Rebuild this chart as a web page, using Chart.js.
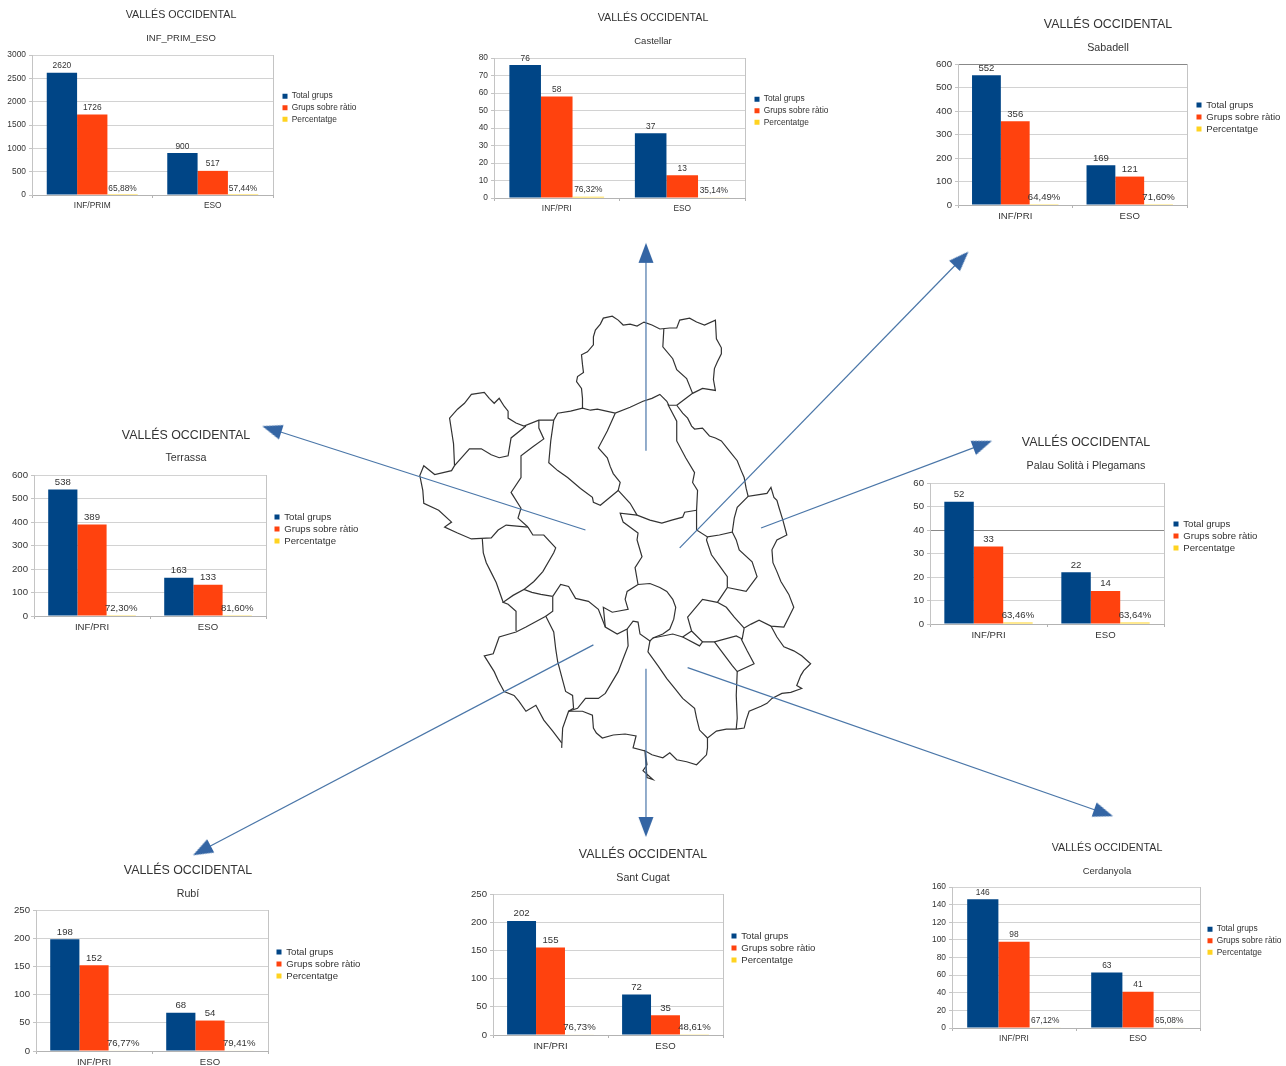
<!DOCTYPE html>
<html>
<head>
<meta charset="utf-8">
<title>Vallés Occidental</title>
<script src="https://cdn.jsdelivr.net/npm/chart.js@4"></script>
<style>
  body { margin: 0; background: #fff; }
  #page { position: relative; width: 1286px; height: 1066px; overflow: hidden; }
  canvas { position: absolute; }
  .small { filter: blur(0.5px); }
  .map { filter: blur(0.3px); }
</style>
</head>
<body>
<div id="page"></div>
<script>
// data
const mainTitle = "VALLÉS OCCIDENTAL";
const places = ["INF_PRIM_ESO", "Castellar", "Sabadell", "Terrassa", "Palau Solità i Plegamans", "Rubí", "Sant Cugat", "Cerdanyola"];
const categories = [
  ["INF/PRIM", "ESO"], ["INF/PRI", "ESO"], ["INF/PRI", "ESO"], ["INF/PRI", "ESO"],
  ["INF/PRI", "ESO"], ["INF/PRI", "ESO"], ["INF/PRI", "ESO"], ["INF/PRI", "ESO"]
];
const seriesNames = ["Total grups", "Grups sobre ràtio", "Percentatge"];
const totalGrups = [[2620, 900], [76, 37], [552, 169], [538, 163], [52, 22], [198, 68], [202, 72], [146, 63]];
const grupsSobreRatio = [[1726, 517], [58, 13], [356, 121], [389, 133], [33, 14], [152, 54], [155, 35], [98, 41]];
const percentatge = [
  [0.6588, 0.5744], [0.7632, 0.3514], [0.6449, 0.7160], [0.7230, 0.8160],
  [0.6346, 0.6364], [0.7677, 0.7941], [0.7673, 0.4861], [0.6712, 0.6508]
];
const yMax = [3000, 80, 600, 600, 60, 250, 250, 160];
const yStep = [500, 10, 100, 100, 10, 50, 50, 20];
const darkGridLine = [null, null, 600, null, 40, null, null, null];

const seriesColors = ["#004586", "#ff420e", "#ffd320"];

// where each small chart sits on the page
const placement = [
  { tx: 181, ty: 14, sy: 37, l: 32, r: 273, t: 55, b: 195, lx: 283, ly: 95, big: false, half: 181 },
  { tx: 653, ty: 17, sy: 40, l: 494, r: 745, t: 58, b: 198, lx: 755, ly: 98, big: false, half: 175 },
  { tx: 1108, ty: 24, sy: 47, l: 958, r: 1187, t: 64, b: 205, lx: 1197, ly: 104, big: true, half: 176 },
  { tx: 186, ty: 435, sy: 457, l: 34, r: 266, t: 475, b: 616, lx: 275, ly: 516, big: true, half: 175 },
  { tx: 1086, ty: 442, sy: 465, l: 930, r: 1164, t: 483, b: 624, lx: 1174, ly: 523, big: true, half: 175 },
  { tx: 188, ty: 870, sy: 893, l: 36, r: 268, t: 910, b: 1051, lx: 277, ly: 951, big: true, half: 175 },
  { tx: 643, ty: 854, sy: 877, l: 493, r: 723, t: 894, b: 1035, lx: 732, ly: 935, big: true, half: 175 },
  { tx: 1107, ty: 847, sy: 870, l: 952, r: 1200, t: 887, b: 1028, lx: 1208, ly: 928, big: false, half: 175 }
];

// map outlines, one list per border stretch
const mapBorders = [
  [[582,407],[582,397],[581,387],[576,380],[577,375],[583,371],[582,363],[581,353],[587,350],[593,343],[593,335],[595,328],[600,322],[603,316],[612,314],[618,318],[623,323],[630,322],[637,324],[644,320],[652,323],[660,327],[670,326],[677,326],[680,318],[690,316],[697,320],[705,323],[716,318],[717,337],[722,346],[722,352],[718,360],[715,367],[714,378],[716,389],[703,387],[693,392],[685,398],[677,404]],
  [[664,327],[663,345],[673,357],[677,368],[687,377],[693,392]],
  [[553,419],[557,412],[570,410],[582,407],[590,409],[597,408],[606,410],[615,412],[630,406],[643,400],[652,397],[660,393],[667,400],[669,404],[677,404]],
  [[677,404],[683,412],[688,417],[692,425],[695,428],[703,427],[710,435],[716,437],[722,440],[730,450],[738,460],[742,470],[745,477],[747,488],[749,496],[768,493],[772,487],[775,497],[778,500],[780,507],[784,520],[788,535],[778,540],[773,550],[774,563],[778,572],[782,582],[790,595],[795,608],[790,618],[785,628],[772,627],[760,621],[752,625],[745,629]],
  [[772,627],[778,638],[785,648],[795,652],[803,657],[812,665],[805,672],[802,677],[798,687],[803,690],[792,694],[783,695],[773,700],[768,705],[762,708],[750,713],[747,722],[745,730],[737,731],[727,731],[717,733],[708,740],[708,750],[707,757],[697,767],[687,764],[677,762],[670,755],[663,760],[652,757],[645,753],[647,767],[643,773],[653,782],[647,780],[645,753],[633,750],[636,738],[625,736],[613,737],[602,740],[596,735],[593,730],[592,717],[582,713],[568,713]],
  [[708,740],[700,732],[697,720],[695,710],[683,700],[675,690],[667,680],[658,667],[648,653],[650,642]],
  [[638,585],[650,584],[660,588],[667,592],[673,600],[676,608],[674,620],[670,630],[663,635],[653,639],[650,642],[640,635],[638,623],[633,622],[627,630],[617,635],[605,628],[603,608],[612,613],[628,610],[625,600],[627,592],[638,585]],
  [[552,597],[560,585],[568,587],[575,599],[588,602],[598,610],[605,628]],
  [[627,630],[628,647],[623,660],[618,673],[605,695],[598,700],[585,700],[577,710],[568,713]],
  [[552,597],[552,612],[545,617],[553,633],[555,650],[557,663],[561,678],[565,693],[572,697],[573,710],[568,713],[562,730],[561,750]],
  [[561,745],[552,733],[543,722],[535,707],[525,713],[518,703],[513,697],[503,693],[497,682],[493,673],[483,657],[492,655],[498,638],[515,633],[525,628],[545,617]],
  [[515,632],[515,612],[507,605],[502,603],[512,596],[523,590],[531,593],[540,595],[552,597]],
  [[481,539],[482,553],[485,563],[490,573],[495,583],[502,603]],
  [[523,590],[533,582],[542,572],[553,553],[555,548],[543,535],[532,535],[527,527]],
  [[453,465],[452,443],[450,430],[448,417],[456,408],[463,402],[470,393],[483,391],[488,397],[493,402],[498,397],[503,405],[507,410],[507,417],[515,422],[523,425],[538,419],[553,419]],
  [[453,465],[468,448],[480,448],[490,454],[498,457],[507,455],[510,437],[525,425]],
  [[538,419],[538,427],[543,438],[532,446],[520,455],[520,477],[510,492],[520,508],[517,518],[527,527]],
  [[453,465],[450,470],[433,474],[422,465],[418,475],[421,490],[422,503],[437,510],[450,522],[443,527],[456,533],[470,539],[490,538],[497,530],[505,525],[527,527]],
  [[553,419],[550,440],[548,462],[557,470],[567,477],[580,488],[592,497],[593,502],[600,505],[618,490]],
  [[615,412],[607,430],[598,447],[607,457],[610,466],[613,473],[620,482],[618,490],[630,503],[637,515]],
  [[637,515],[620,513],[623,522],[638,533],[637,540],[642,557],[635,568],[638,585]],
  [[637,515],[650,520],[662,523],[672,520],[683,517],[685,512],[697,510]],
  [[668,403],[677,420],[677,440],[686,457],[695,472],[693,482],[698,490],[697,510],[697,530],[708,537],[720,535],[733,532],[735,518],[738,507],[749,496]],
  [[733,532],[737,540],[740,550],[753,562],[758,577],[747,592],[728,588]],
  [[708,537],[707,540],[712,555],[720,566],[728,577],[728,588],[718,603],[727,608],[735,618],[745,629]],
  [[718,603],[703,600],[688,618],[692,632],[683,638],[700,647],[703,643],[692,632]],
  [[683,638],[673,635],[653,639]],
  [[703,643],[715,643],[737,637],[743,640],[745,629]],
  [[715,643],[733,667],[738,673],[755,665],[748,652],[742,640]],
  [[738,673],[737,697],[738,720],[737,731]]
];

const arrowStarts = [[646,450],[680,548],[585,530],[762,528],[593,646],[646,670],[688,669]];
const arrowTips = [[646,243],[969,251],[262,426],[992,441],[192,857],[646,837],[1114,818]];

const page = document.getElementById('page');

function addCanvas(left, top, width, height, cls) {
  const c = document.createElement('canvas');
  c.width = width;
  c.height = height;
  c.style.left = left + 'px';
  c.style.top = top + 'px';
  c.style.width = width + 'px';
  c.style.height = height + 'px';
  if (cls) c.className = cls;
  page.appendChild(c);
  return c;
}

// arrow head with its tip close to the middle of the image, so the point lands on the tip
function arrowHead() {
  const c = document.createElement('canvas');
  c.width = 18;
  c.height = 40;
  const g = c.getContext('2d');
  g.fillStyle = '#3465a4';
  g.beginPath();
  g.moveTo(9, 17);
  g.lineTo(16.5, 37);
  g.lineTo(1.5, 37);
  g.closePath();
  g.fill();
  return c;
}
const headImage = arrowHead();

function toPoints(list) {
  return list.map(p => ({ x: p[0], y: p[1] }));
}

const mapDatasets = [];
arrowStarts.forEach((start, i) => {
  const tip = arrowTips[i];
  const angle = Math.atan2(tip[0] - start[0], start[1] - tip[1]) * 180 / Math.PI;
  mapDatasets.push({
    data: toPoints([start, tip]),
    showLine: true,
    borderColor: '#4a76a8',
    borderWidth: 1.2,
    pointRadius: [0, 1],
    pointStyle: headImage,
    pointRotation: angle
  });
});
mapBorders.forEach(border => {
  mapDatasets.push({
    data: toPoints(border),
    showLine: true,
    borderColor: '#333333',
    borderWidth: 1.2,
    pointRadius: 0
  });
});

new Chart(addCanvas(0, 0, 1286, 1066, 'map'), {
  type: 'scatter',
  data: { datasets: mapDatasets },
  options: {
    responsive: false,
    animation: false,
    plugins: { legend: { display: false }, tooltip: { enabled: false } },
    layout: { padding: 0 },
    scales: {
      x: { type: 'linear', min: 0, max: 1286, display: false },
      y: { type: 'linear', min: 0, max: 1066, reverse: true, display: false }
    }
  }
});

function percentText(v) {
  return (v * 100).toFixed(2).replace('.', ',') + '%';
}

// number on top of every bar
const barValues = {
  id: 'barValues',
  afterDatasetsDraw(chart) {
    const ctx = chart.ctx;
    ctx.save();
    ctx.font = chart.options.scales.x.ticks.font.size + 'px "Liberation Sans"';
    ctx.fillStyle = '#333333';
    ctx.textAlign = 'center';
    ctx.textBaseline = 'bottom';
    chart.data.datasets.forEach((ds, d) => {
      chart.getDatasetMeta(d).data.forEach((bar, i) => {
        const text = d === 2 ? percentText(ds.data[i]) : String(ds.data[i]);
        ctx.fillText(text, bar.x, bar.y - 2.5);
      });
    });
    ctx.restore();
  }
};

// legend is kept out of the layout and moved next to the plot,
// titles get centred on the whole canvas instead of on the plot
const legendSpot = {
  id: 'legendSpot',
  afterLayout(chart, args, opts) {
    const lg = chart.legend;
    lg.left = opts.x - lg.options.labels.padding;
    lg.top = opts.y - lg.options.labels.padding;
    lg.right = chart.width;
    lg.bottom = chart.height;
    chart.boxes.forEach(box => {
      if (box.options && box.options.text) {
        box.left = 0;
        box.right = chart.width;
      }
    });
  }
};

places.forEach((place, n) => {
  const p = placement[n];
  const titleSize = p.big ? 12.4 : 10.7;
  const subSize = p.big ? 10.7 : 9.5;
  const bodySize = p.big ? 9.6 : 8.4;
  const left = p.tx - p.half;
  const width = p.half * 2;
  const top = p.ty - 10;
  const height = p.b + 22 - top;
  const titleLine = titleSize * 1.2;
  const subLine = subSize * 1.2;

  new Chart(addCanvas(left, top, width, height, 'small'), {
    type: 'bar',
    data: {
      labels: categories[n],
      datasets: [
        { label: seriesNames[0], data: totalGrups[n], backgroundColor: seriesColors[0] },
        { label: seriesNames[1], data: grupsSobreRatio[n], backgroundColor: seriesColors[1] },
        { label: seriesNames[2], data: percentatge[n], backgroundColor: seriesColors[2] }
      ]
    },
    options: {
      responsive: false,
      animation: false,
      layout: { padding: { left: 0, top: 0, bottom: 0, right: width - (p.r - left) } },
      datasets: { bar: { barPercentage: 1, categoryPercentage: 0.755, borderWidth: 0 } },
      plugins: {
        tooltip: { enabled: false },
        title: {
          display: true,
          text: mainTitle,
          color: '#333333',
          font: { family: 'Liberation Sans', size: titleSize, weight: 'normal', lineHeight: 1.2 },
          padding: { top: 11 - titleLine / 2, bottom: p.sy - p.ty - titleLine / 2 - subLine / 2 }
        },
        subtitle: {
          display: true,
          text: place,
          color: '#333333',
          font: { family: 'Liberation Sans', size: subSize, weight: 'normal', lineHeight: 1.2 },
          padding: { top: 0, bottom: p.t - p.sy - subLine / 2 - 1 }
        },
        legend: {
          position: 'chartArea',
          align: 'start',
          labels: {
            boxWidth: 5,
            boxHeight: 5,
            padding: p.big ? 2.4 : 3.2,
            color: '#333333',
            font: { family: 'Liberation Sans', size: bodySize, lineHeight: 1.2 }
          }
        },
        legendSpot: { x: p.lx - left - 0.5, y: p.ly - top - bodySize * 0.6 + 2 }
      },
      scales: {
        x: {
          afterFit: axis => { axis.height = 22; },
          grid: {
            offset: true,
            tickLength: 3,
            tickColor: '#b3b3b3',
            color: c => (c.index === undefined ? '#c4c4c4' : 'transparent')
          },
          border: { color: '#b3b3b3' },
          ticks: {
            color: '#333333',
            padding: 3,
            maxRotation: 0,
            autoSkip: false,
            font: { family: 'Liberation Sans', size: bodySize }
          }
        },
        y: {
          min: 0,
          max: yMax[n],
          afterFit: axis => { axis.width = p.l - left; },
          grid: {
            tickLength: 3,
            tickColor: '#c4c4c4',
            color: c => (c.tick && c.tick.value === darkGridLine[n] ? '#888888' : '#d2d2d2')
          },
          border: { color: '#c4c4c4' },
          ticks: {
            stepSize: yStep[n],
            color: '#333333',
            padding: 3,
            font: { family: 'Liberation Sans', size: bodySize },
            callback: value => value
          }
        }
      }
    },
    plugins: [barValues, legendSpot]
  });
});
</script>
</body>
</html>
